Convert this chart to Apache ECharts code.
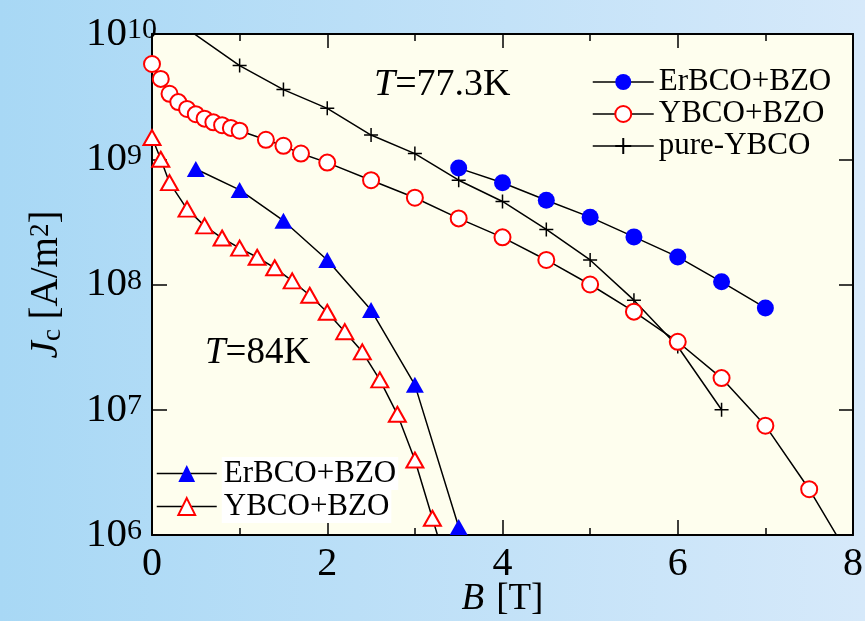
<!DOCTYPE html>
<html>
<head>
<meta charset="utf-8">
<title>Jc - B</title>
<script src="https://cdn.jsdelivr.net/npm/echarts@6/dist/echarts.min.js"></script>
<style>
html, body { margin: 0; padding: 0; }
#main { width: 865px; height: 621px; }
</style>
</head>
<body>
<div id="main"></div>
<script>
// T = 77.3 K
var bEr77 = [3.5, 4, 4.5, 5, 5.5, 6, 6.5, 7];
var jEr77 = [8.5e8, 6.5e8, 4.7e8, 3.45e8, 2.4e8, 1.66e8, 1.05e8, 6.5e7];

var bY77 = [0, 0.1, 0.2, 0.3, 0.4, 0.5, 0.6, 0.7, 0.8, 0.9, 1.0, 1.3, 1.5, 1.7, 2, 2.5, 3, 3.5, 4, 4.5, 5, 5.5, 6, 6.5, 7, 7.5, 8];
var jY77 = [5.76e9, 4.38e9, 3.33e9, 2.86e9, 2.52e9, 2.29e9, 2.11e9, 1.97e9, 1.87e9, 1.78e9, 1.69e9, 1.43e9, 1.28e9, 1.11e9, 9.4e8, 6.8e8, 4.93e8, 3.37e8, 2.38e8, 1.57e8, 1.0e8, 6.07e7, 3.49e7, 1.79e7, 7.46e6, 2.32e6, 6e5];

var bPure = [0.4, 1, 1.5, 2, 2.5, 3, 3.5, 4, 4.5, 5, 5.5, 6, 6.5];
var jPure = [1.1e10, 5.6e9, 3.6e9, 2.55e9, 1.56e9, 1.11e9, 6.8e8, 4.6e8, 2.75e8, 1.57e8, 7.5e7, 3.2e7, 1.0e7];

// T = 84 K
var bEr84 = [0.5, 1, 1.5, 2, 2.5, 3, 3.5];
var jEr84 = [8.36e8, 5.69e8, 3.23e8, 1.57e8, 6.25e7, 1.58e7, 1.16e6];

var bY84 = [0, 0.1, 0.2, 0.4, 0.6, 0.8, 1.0, 1.2, 1.4, 1.6, 1.8, 2.0, 2.2, 2.4, 2.6, 2.8, 3.0, 3.2, 3.4];
var jY84 = [1.49e9, 1.0e9, 6.5e8, 4.0e8, 2.94e8, 2.35e8, 1.95e8, 1.65e8, 1.36e8, 1.07e8, 8.2e7, 6.0e7, 4.2e7, 2.9e7, 1.73e7, 9.2e6, 3.97e6, 1.36e6, 4.7e5];

var xTicks = [0, 2, 4, 6, 8];

var serif = "'Liberation Serif', 'Times New Roman', serif";

function pairs(xs, ys) {
  return xs.map(function (x, i) { return [x, ys[i]]; });
}

var chart = echarts.init(document.getElementById('main'));

var plusPath = 'path://M0,5L10,5M5,0L5,10';

var option = {
  animation: false,
  backgroundColor: new echarts.graphic.LinearGradient(0, 0, 1, 0, [
    { offset: 0, color: '#a8d8f5' },
    { offset: 1, color: '#d6e9fa' }
  ]),
  textStyle: { fontFamily: serif, color: '#000' },
  grid: {
    left: 152, right: 12, top: 34, bottom: 86,
    outerBoundsMode: 'none', containLabel: false,
    show: true, backgroundColor: '#fefeee', borderWidth: 0
  },
  xAxis: [
    {
      type: 'value', min: 0, max: 8, interval: 2,
      name: '{i|B}[T]',
      nameLocation: 'middle',
      nameGap: 46,
      nameMoveOverlap: false,
      nameTextStyle: {
        fontFamily: serif, fontSize: 37, color: '#000',
        rich: { i: { fontFamily: serif, fontSize: 37, fontStyle: 'italic', padding: [0, 12, 0, 0] } }
      },
      axisLine: { onZero: false, lineStyle: { color: '#000', width: 2 } },
      axisTick: { inside: true, length: 15, lineStyle: { color: '#000', width: 1.5 } },
      minorTick: { show: true, splitNumber: 2, length: 7, lineStyle: { color: '#000', width: 1.5 } },
      axisLabel: {
        fontFamily: serif, fontSize: 40, color: '#000', margin: 9,
        formatter: function (v) { return xTicks.indexOf(v) >= 0 ? String(v) : ''; }
      },
      splitLine: { show: false }
    },
    {
      type: 'value', min: 0, max: 8, interval: 2, position: 'top',
      axisLine: { onZero: false, lineStyle: { color: '#000', width: 2 } },
      axisTick: { inside: true, length: 14, lineStyle: { color: '#000', width: 1.5 } },
      minorTick: { show: true, splitNumber: 2, length: 7, lineStyle: { color: '#000', width: 1.5 } },
      axisLabel: { show: false },
      splitLine: { show: false }
    }
  ],
  yAxis: [
    {
      type: 'log', logBase: 10, min: 1e6, max: 1e10, splitNumber: 4,
      name: '{i|J}{s|c} [A/m{p|2}]',
      nameLocation: 'middle',
      nameGap: 86,
      nameMoveOverlap: false,
      nameTextStyle: {
        fontFamily: serif, fontSize: 39, color: '#000',
        rich: {
          i: { fontFamily: serif, fontSize: 39, fontStyle: 'italic' },
          s: { fontFamily: serif, fontSize: 27, verticalAlign: 'bottom' },
          p: { fontFamily: serif, fontSize: 27, verticalAlign: 'top' }
        }
      },
      axisLine: { onZero: false, lineStyle: { color: '#000', width: 2 } },
      axisTick: { inside: true, length: 15, lineStyle: { color: '#000', width: 1.5 } },
      axisLabel: {
        align: 'left', margin: 66, color: '#000',
        formatter: function (v) {
          var e = Math.round(Math.log(v) / Math.LN10);
          return '{b|10}{e|' + e + '}';
        },
        rich: {
          b: { fontFamily: serif, fontSize: 41, color: '#000' },
          e: { fontFamily: serif, fontSize: 30, color: '#000', verticalAlign: 'top', padding: [2, 0, 0, 0] }
        }
      },
      splitLine: { show: false }
    },
    {
      type: 'log', logBase: 10, min: 1e6, max: 1e10, splitNumber: 4, position: 'right',
      axisLine: { onZero: false, lineStyle: { color: '#000', width: 2 } },
      axisTick: { inside: true, length: 14, lineStyle: { color: '#000', width: 1.5 } },
      axisLabel: { show: false },
      splitLine: { show: false }
    }
  ],
  legend: [
    {
      left: 592, top: 66, orient: 'vertical', padding: 0, itemGap: 0,
      itemWidth: 61, itemHeight: 20,
      lineStyle: { width: 1.5 },
      textStyle: { fontFamily: serif, fontSize: 31, lineHeight: 32, color: '#000' },
      data: ['ErBCO+BZO', 'YBCO+BZO', 'pure-YBCO']
    },
    {
      left: 156, top: 457, orient: 'vertical', padding: 0, itemGap: 0,
      itemWidth: 60, itemHeight: 21,
      lineStyle: { width: 1.5 },
      textStyle: {
        fontFamily: serif, fontSize: 31, lineHeight: 31, color: '#000',
        backgroundColor: '#fff', padding: [1, 2, 1, 2]
      },
      formatter: function (name) { return name.replace(' (84K)', ''); },
      data: ['ErBCO+BZO (84K)', 'YBCO+BZO (84K)']
    }
  ],
  graphic: [
    {
      type: 'text', left: 374, top: 66,
      style: {
        text: '{i|T}=77.3K',
        font: '38px ' + serif, fill: '#000',
        rich: { i: { fontFamily: serif, fontSize: 38, fontStyle: 'italic' } }
      }
    },
    {
      type: 'text', left: 205, top: 335,
      style: {
        text: '{i|T}=84K',
        font: '37px ' + serif, fill: '#000',
        rich: { i: { fontFamily: serif, fontSize: 37, fontStyle: 'italic' } }
      }
    }
  ],
  series: [
    {
      name: 'pure-YBCO', type: 'line', clip: true,
      data: pairs(bPure, jPure),
      symbol: plusPath, symbolSize: 14,
      itemStyle: { color: '#000', borderColor: '#000', borderWidth: 1.5 },
      lineStyle: { color: '#000', width: 1.5 },
      emphasis: { disabled: true }
    },
    {
      name: 'YBCO+BZO', type: 'line', clip: true,
      data: pairs(bY77, jY77),
      symbol: 'circle', symbolSize: 16,
      itemStyle: { color: '#fff', borderColor: '#ff0000', borderWidth: 2 },
      lineStyle: { color: '#000', width: 1.5 },
      emphasis: { disabled: true }
    },
    {
      name: 'ErBCO+BZO', type: 'line', clip: true,
      data: pairs(bEr77, jEr77),
      symbol: 'circle', symbolSize: 17,
      itemStyle: { color: '#0000ff', borderWidth: 0 },
      lineStyle: { color: '#000', width: 1.5 },
      emphasis: { disabled: true }
    },
    {
      name: 'YBCO+BZO (84K)', type: 'line', clip: true,
      data: pairs(bY84, jY84),
      symbol: 'triangle', symbolSize: [17, 15],
      itemStyle: { color: '#fff', borderColor: '#ff0000', borderWidth: 2 },
      lineStyle: { color: '#000', width: 1.5 },
      emphasis: { disabled: true }
    },
    {
      name: 'ErBCO+BZO (84K)', type: 'line', clip: true,
      data: pairs(bEr84, jEr84),
      symbol: 'triangle', symbolSize: [18, 16],
      itemStyle: { color: '#0000ff', borderWidth: 0 },
      lineStyle: { color: '#000', width: 1.5 },
      emphasis: { disabled: true }
    }
  ]
};

chart.setOption(option);
</script>
</body>
</html>
